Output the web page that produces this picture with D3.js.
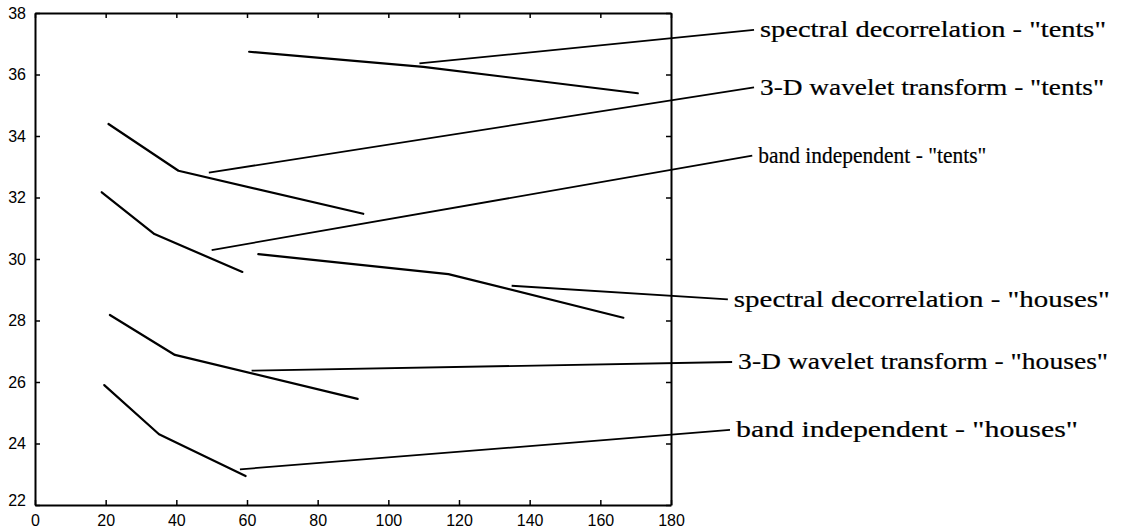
<!DOCTYPE html>
<html>
<head>
<meta charset="utf-8">
<script src="https://cdn.jsdelivr.net/npm/d3@7"></script>
<style>
  html, body { margin: 0; padding: 0; background: #fff; }
  svg { display: block; }
</style>
</head>
<body>
<div id="chart"></div>
<script>
// ---- data ----
const xTicks = [0, 20, 40, 60, 80, 100, 120, 140, 160, 180];
const yTicks = [22, 24, 26, 28, 30, 32, 34, 36, 38];

const spectralTents   = [[60.6, 36.74], [109.9, 36.25], [170.6, 35.39]];
const waveletTents    = [[20.8, 34.39], [40.6, 32.87], [92.9, 31.47]];
const bandTents       = [[18.9, 32.17], [33.8, 30.81], [58.7, 29.58]];
const spectralHouses  = [[63.2, 30.16], [117.0, 29.51], [166.5, 28.09]];
const waveletHouses   = [[21.2, 28.18], [39.6, 26.88], [91.3, 25.45]];
const bandHouses      = [[19.6, 25.90], [35.1, 24.30], [59.6, 22.94]];

const labels = [
  'spectral decorrelation - "tents"',
  '3-D wavelet transform - "tents"',
  'band independent - "tents"',
  'spectral decorrelation - "houses"',
  '3-D wavelet transform - "houses"',
  'band independent - "houses"'
];
// leader lines: [start on curve, end near label], data units (end lies past x = 180)
const leaders = [
  [[108.8, 36.36], [203.5, 37.45]],
  [[49.2, 32.81], [203.5, 35.58]],
  [[50.0, 30.29], [203.0, 33.36]],
  [[134.9, 29.13], [196.1, 28.69]],
  [[61.3, 26.37], [197.3, 26.65]],
  [[58.0, 23.16], [196.7, 24.44]]
];

// ---- layout ----
const W = 1121, H = 531;
const m = { left: 35, right: 450, top: 13, bottom: 26 };
// rendered width of each label in the scan (px)
const labelWidth = [346, 344, 228, 376, 370, 342];

const svg = d3.select('#chart').append('svg')
  .attr('width', W).attr('height', H)
  .style('background', '#fff');

const x = d3.scaleLinear().domain([0, 180]).range([m.left, W - m.right]);
const y = d3.scaleLinear().domain([22, 38]).range([H - m.bottom, m.top]);

// axes: MATLAB style, ticks pointing inward on all four sides
const tickFont = '16px "Liberation Sans", Arial, sans-serif';
const gx = svg.append('g').attr('transform', `translate(0,${y(22)})`)
  .call(d3.axisBottom(x).tickValues(xTicks).tickSizeInner(-5).tickSizeOuter(0).tickPadding(10));
const gy = svg.append('g').attr('transform', `translate(${x(0)},0)`)
  .call(d3.axisLeft(y).tickValues(yTicks).tickSizeInner(-5).tickSizeOuter(0).tickPadding(9));
const gt = svg.append('g').attr('transform', `translate(0,${y(38)})`)
  .call(d3.axisTop(x).tickValues(xTicks).tickSizeInner(-5).tickSizeOuter(0).tickFormat(''));
const gr = svg.append('g').attr('transform', `translate(${x(180)},0)`)
  .call(d3.axisRight(y).tickValues(yTicks).tickSizeInner(-5).tickSizeOuter(0).tickFormat(''));

[gx, gy, gt, gr].forEach(g => {
  g.select('.domain').attr('stroke', '#000').attr('stroke-width', 2);
  g.selectAll('.tick line').attr('stroke', '#000').attr('stroke-width', 1.5);
  g.selectAll('.tick text').style('font', tickFont).attr('font-weight', 'bold').attr('fill', '#000');
});
// the "22" sits a little above the corner in the scan
gy.selectAll('.tick').filter(d => d === 22).select('text').attr('dy', '0.0em');

// curves
const line = d3.line().x(d => x(d[0])).y(d => y(d[1]));
const series = [spectralTents, waveletTents, bandTents, spectralHouses, waveletHouses, bandHouses];
svg.append('g')
  .attr('fill', 'none').attr('stroke', '#000').attr('stroke-width', 2.2)
  .attr('stroke-linejoin', 'round').attr('stroke-linecap', 'round')
  .selectAll('path').data(series).join('path')
  .attr('d', line);

// leader lines
svg.append('g')
  .attr('fill', 'none').attr('stroke', '#000').attr('stroke-width', 1.8)
  .selectAll('path').data(leaders).join('path')
  .attr('d', d => line(d));

// labels
svg.append('g')
  .selectAll('text').data(leaders).join('text')
  .attr('x', d => x(d[1][0]) + 6)
  .attr('y', d => y(d[1][1]))
  .attr('dy', '0.32em')
  .attr('textLength', (d, i) => labelWidth[i])
  .attr('lengthAdjust', 'spacingAndGlyphs')
  .style('font', '23px "Liberation Serif", "Times New Roman", serif')
  .attr('fill', '#000')
  .attr('stroke', '#000').attr('stroke-width', 0.2)
  .text((d, i) => labels[i]);
</script>
</body>
</html>
